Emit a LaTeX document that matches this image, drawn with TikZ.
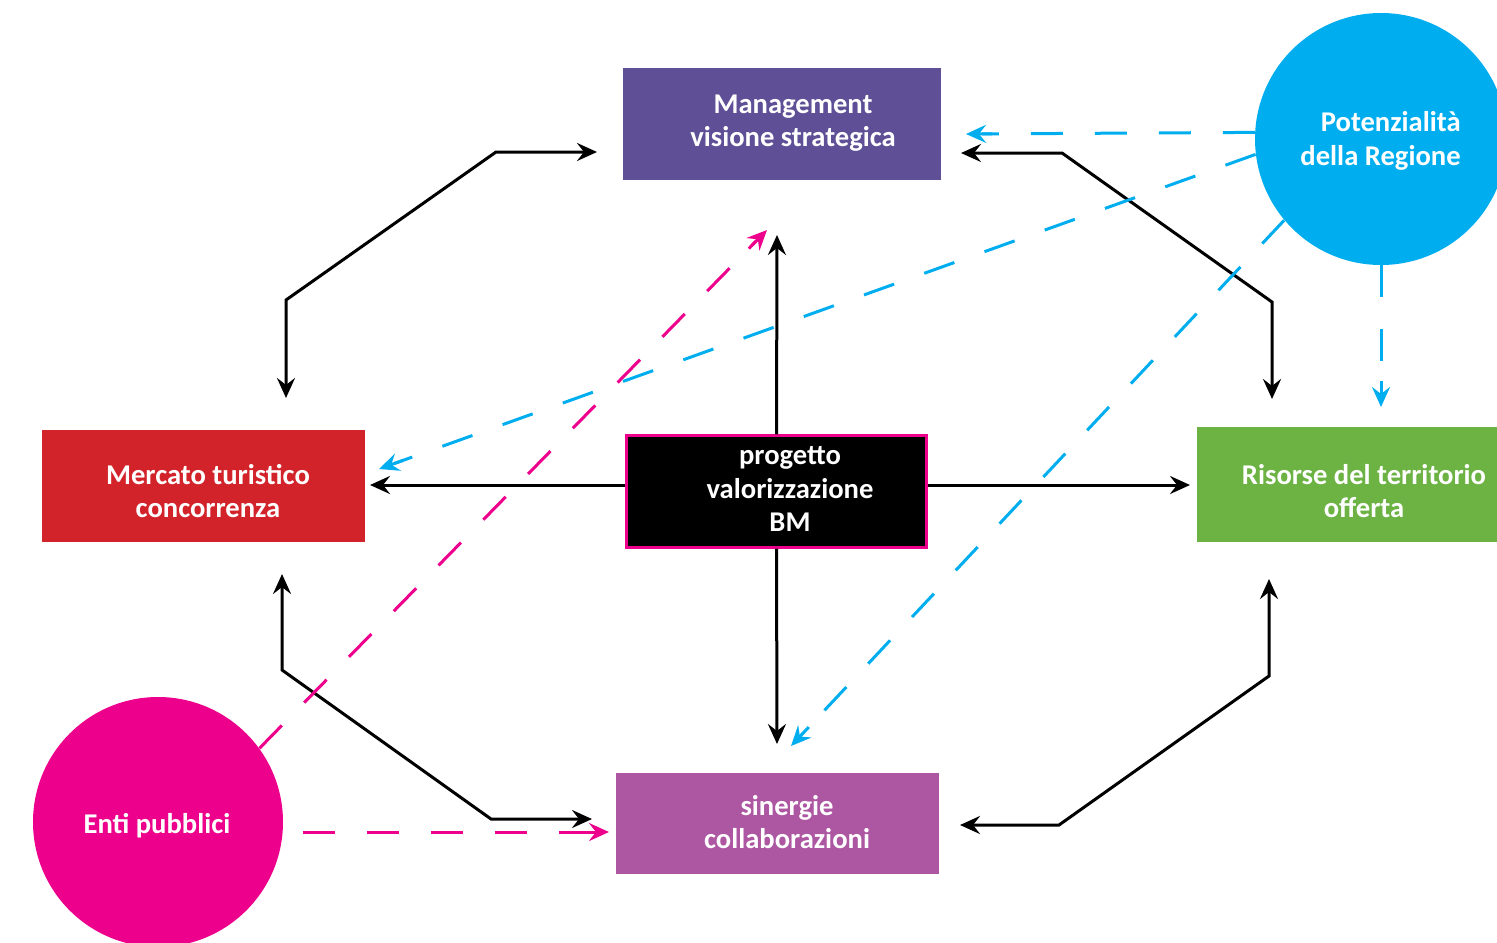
\documentclass[tikz,border=0pt]{standalone}
\usepackage{fontspec}
\setmainfont{Carlito}
\usetikzlibrary{arrows.meta,calc}
\definecolor{cMan}{HTML}{5E4F96}
\definecolor{cPot}{HTML}{00AEEF}
\definecolor{cMer}{HTML}{D2232A}
\definecolor{cRis}{HTML}{6CB344}
\definecolor{cSin}{HTML}{AD56A2}
\definecolor{cEnt}{HTML}{EC008C}
\newcommand\dashedarrow[3]{%
  \draw[#1, shorten >=8pt] (#2) -- (#3);
  \draw[#1, solid, -tip] ($(#3)!13pt!(#2)$) -- (#3);}
\begin{document}
\begin{tikzpicture}[x=0.5pt,y=-0.5pt,
  txt/.style={text=white, align=center, inner sep=0pt, font=\bfseries\fontsize{14.3}{16.7}\selectfont},
  box/.style={rectangle, inner sep=0pt},
  circ/.style={circle, inner sep=0pt},
  tip/.tip={Stealth[length=10pt,width=9pt,inset=3.5pt]},
  arr/.style={draw=black, line width=1.5pt, -tip},
  arrb/.style={draw=black, line width=1.5pt, tip-tip},
  cdash/.style={draw=cPot, line width=1.5pt, dash pattern=on 16pt off 16pt},
  mdash/.style={draw=cEnt, line width=1.5pt, dash pattern=on 16pt off 16pt}]
\useasboundingbox (0,0) rectangle (1497,942);
\clip (0,0) rectangle (1497,942);
% shapes
\node[box, fill=cMan, minimum width=159pt, minimum height=56pt] (man) at (782,124) {};
\node[box, fill=cMer, minimum width=161.5pt, minimum height=56pt] (mer) at (203.5,486) {};
\node[box, fill=black, draw=cEnt, line width=1.2pt, minimum width=150pt, minimum height=56pt] (bm) at (776.5,491.5) {};
\node[box, fill=cRis, minimum width=167pt, minimum height=57.5pt] (ris) at (1364,484.5) {};
\node[box, fill=cSin, minimum width=161.5pt, minimum height=50.5pt] (sin) at (777.5,823.5) {};
\node[circ, fill=cPot, minimum size=126pt] (pot) at (1381,139) {};
\node[circ, fill=cEnt, minimum size=125pt] (ent) at (158,822) {};
% texts
\node[txt] (manT) at (793,123) {Management\\visione strategica};
\node[txt] (merT) at (208,491) {Mercato turistico\\concorrenza};
\node[txt] (bmT) at (790,489) {progetto\\valorizzazione\\BM};
\node[txt] (risT) at (1364,491) {Risorse del territorio\\offerta};
\node[txt] (sinT) at (787,822) {sinergie\\collaborazioni};
\node[txt, align=right, anchor=east] (potT) at (1461,141) {Potenzialità\\della Regione};
\node[txt] (entT) at (157,826) {Enti pubblici};
% free ends
\coordinate (aUp) at (777,235);
\coordinate (aDn) at (777,744);
\coordinate (aL) at (370,485);
\coordinate (aR) at (1190,485);
\coordinate (mm1) at (597,152);
\coordinate (mm2) at (496,152);
\coordinate (mm3) at (286,300);
\coordinate (mm4) at (286,398);
\coordinate (mr1) at (961,153);
\coordinate (mr2) at (1062,153);
\coordinate (mr3) at (1272,302);
\coordinate (mr4) at (1272,399);
\coordinate (ms1) at (282,574);
\coordinate (ms2) at (282,670);
\coordinate (ms3) at (491,819);
\coordinate (ms4) at (592,819);
\coordinate (rs1) at (1269,579);
\coordinate (rs2) at (1269,676);
\coordinate (rs3) at (1059,825);
\coordinate (rs4) at (960,825);
\coordinate (pM) at (966,134);
\coordinate (pMer) at (379,469);
\coordinate (pS) at (791,746);
\coordinate (pR) at (1381,407);
\coordinate (eM) at (767,230);
\coordinate (eS) at (609,832);
% black connectors
\draw[arr] (bm.north) -- (aUp);
\draw[arr] (bm.south) -- (aDn);
\draw[arr] (bm.west |- aL) -- (aL);
\draw[arr] (bm.east |- aR) -- (aR);
\draw[arrb] (mm1) -- (mm2) -- (mm3) -- (mm4);
\draw[arrb] (mr1) -- (mr2) -- (mr3) -- (mr4);
\draw[arrb] (ms1) -- (ms2) -- (ms3) -- (ms4);
\draw[arrb] (rs1) -- (rs2) -- (rs3) -- (rs4);
% cyan dashed
\dashedarrow{cdash}{pot.177.7}{pM}
\dashedarrow{cdash}{pot.187}{pMer}
\dashedarrow{cdash}{pot.220.7}{pS}
\dashedarrow{cdash}{pot.south}{pR}
% magenta dashed
\dashedarrow{mdash}{ent.36}{eM}
\draw[mdash, shorten <=10pt, shorten >=8pt] (ent.east |- eS) -- (eS);
\draw[mdash, solid, -tip] ($(eS)+(-26,0)$) -- (eS);
\end{tikzpicture}
\end{document}
